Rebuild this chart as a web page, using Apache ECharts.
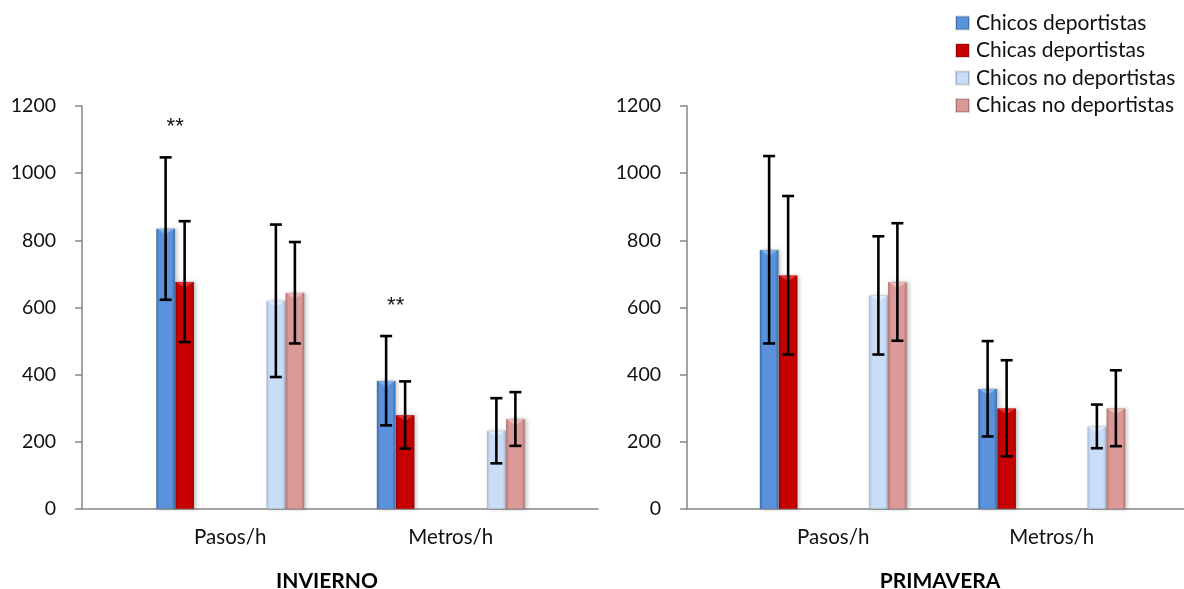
<!DOCTYPE html>
<html>
<head>
<meta charset="utf-8">
<script src="https://cdn.jsdelivr.net/npm/echarts@6/dist/echarts.min.js"></script>
<style>
html,body{margin:0;padding:0;background:#fff;}
#chart{width:1184px;height:589px;}
</style>
</head>
<body>
<div id="chart"></div>
<script>
// ---- data ----
const categories = ['Pasos/h', 'Metros/h'];
const seriesNames = ['Chicos deportistas', 'Chicas deportistas', 'Chicos no deportistas', 'Chicas no deportistas'];
const yTicks = [0, 200, 400, 600, 800, 1000, 1200];
const panelTitles = ['INVIERNO', 'PRIMAVERA'];

// INVIERNO (means, [Pasos/h, Metros/h])
const invChicosDep = [835, 382];
const invChicasDep = [677, 280];
const invChicosNoDep = [620, 233];
const invChicasNoDep = [644, 268];
// INVIERNO standard deviations
const invChicosDepSD = [212, 133];
const invChicasDepSD = [180, 100];
const invChicosNoDepSD = [227, 97];
const invChicasNoDepSD = [151, 80];
const invSignificance = ['**', '**'];

// PRIMAVERA
const priChicosDep = [772, 358];
const priChicasDep = [696, 300];
const priChicosNoDep = [636, 246];
const priChicasNoDep = [676, 300];
const priChicosDepSD = [279, 142];
const priChicasDepSD = [236, 143];
const priChicosNoDepSD = [176, 65];
const priChicasNoDepSD = [175, 113];
const priSignificance = ['', ''];

// ---- styling ----
const FONT = 'Lato';
const AXIS_COLOR = '#868686';
const BAR_W = 19;
function grad(edge, mid) {
  return new echarts.graphic.LinearGradient(0, 0, 1, 0, [
    {offset: 0, color: edge}, {offset: 0.18, color: mid},
    {offset: 0.82, color: mid}, {offset: 1, color: edge}
  ]);
}
const colors = [
  grad('#3C6DAE', '#5A92DC'),
  grad('#9C0000', '#C70000'),
  grad('#A7BEDC', '#CADDF7'),
  grad('#B57473', '#DB9997')
];
const topHighlights = ['#8CC0F5', '#F04040', '#E6F0FC', '#F2C4C2'];

const chartDom = document.getElementById('chart');
const chart = echarts.init(chartDom, null, {renderer: 'canvas'});

const panels = [
  {vals: [invChicosDep, invChicasDep, invChicosNoDep, invChicasNoDep],
   sds: [invChicosDepSD, invChicasDepSD, invChicosNoDepSD, invChicasNoDepSD],
   sig: invSignificance,
   axisGrid: {left: 82, width: 516, top: 106, bottom: 80},
   barGrid: {left: 120, width: 441, top: 106, bottom: 80},
   titleCenter: 322},
  {vals: [priChicosDep, priChicasDep, priChicosNoDep, priChicasNoDep],
   sds: [priChicosDepSD, priChicasDepSD, priChicosNoDepSD, priChicasNoDepSD],
   sig: priSignificance,
   axisGrid: {left: 687, right: 0, top: 106, bottom: 80},
   barGrid: {left: 724, width: 437, top: 106, bottom: 80},
   titleCenter: 935}
];

const grid = [], xAxis = [], yAxis = [], series = [], title = [];
// slot layout: 4 slots per panel: metric*2 + (deportistas?0:1)
const slotNames = ['p_d', 'p_n', 'm_d', 'm_n'];

panels.forEach((p, pi) => {
  const gA = grid.length; grid.push(p.axisGrid);
  const gB = grid.length; grid.push(p.barGrid);
  xAxis.push({type: 'category', gridIndex: gA, data: [''], boundaryGap: true, position: 'bottom',
    axisLine: {show: true, lineStyle: {color: AXIS_COLOR, width: 1.5}},
    axisTick: {show: false}, axisLabel: {show: false}, splitLine: {show: false}});
  const xSlots = xAxis.length;
  xAxis.push({type: 'category', gridIndex: gB, data: slotNames, position: 'bottom',
    axisLine: {show: false}, axisTick: {show: false}, axisLabel: {show: false}, splitLine: {show: false}});
  xAxis.push({type: 'category', gridIndex: gB, data: categories, position: 'bottom', offset: 0,
    axisLine: {show: false}, axisTick: {show: false}, splitLine: {show: false},
    axisLabel: {show: true, margin: 18, color: '#111', fontFamily: FONT, fontSize: 20.5}});
  yAxis.push({type: 'value', gridIndex: gA, min: yTicks[0], max: yTicks[yTicks.length - 1], interval: 200,
    axisLine: {show: true, lineStyle: {color: AXIS_COLOR, width: 1.5}},
    axisTick: {show: true, length: 7, lineStyle: {color: AXIS_COLOR, width: 1.5}},
    axisLabel: {margin: 26, color: '#111', fontFamily: FONT, fontSize: 19.5,
      formatter: function (v) { return String(v); }},
    splitLine: {show: false}});
  const yBar = yAxis.length;
  yAxis.push({type: 'value', gridIndex: gB, min: yTicks[0], max: yTicks[yTicks.length - 1], interval: 200,
    show: false, splitLine: {show: false}});

  // bars
  seriesNames.forEach((name, si) => {
    const dep = si < 2;
    const data = [];
    for (let m = 0; m < 2; m++) {
      if (dep) { data.push(p.vals[si][m]); data.push('-'); }
      else { data.push('-'); data.push(p.vals[si][m]); }
    }
    series.push({
      name: name, type: 'bar', xAxisIndex: xSlots, yAxisIndex: yBar,
      stack: 'panel' + pi + (si % 2 === 0 ? 'boys' : 'girls'),
      barWidth: BAR_W, barGap: '0%',
      itemStyle: {color: colors[si], borderColor: 'rgba(0,0,0,0.15)', borderWidth: 0.5,
        shadowBlur: 4, shadowColor: 'rgba(0,0,0,0.25)', shadowOffsetX: 2, shadowOffsetY: 0},
      data: data, z: 2
    });
  });

  // error bars (+ bevel highlight at bar tops)
  const errData = [];
  const sigList = [];
  const hlList = [];
  seriesNames.forEach((name, si) => {
    const dep = si < 2;
    const side = si % 2 === 0 ? -1 : 1;
    for (let m = 0; m < 2; m++) {
      const slot = m * 2 + (dep ? 0 : 1);
      errData.push([slot, p.vals[si][m], p.sds[si][m], side]);
      sigList.push(si === 0 ? p.sig[m] : '');
      hlList.push(topHighlights[si]);
    }
  });
  series.push({
    type: 'custom', xAxisIndex: xSlots, yAxisIndex: yBar, z: 5, silent: true,
    encode: {x: 0, y: 1},
    data: errData,
    renderItem: function (params, api) {
      const slot = api.value(0), mean = api.value(1), sd = api.value(2), side = api.value(3);
      const cx = api.coord([slot, mean])[0] + side * BAR_W / 2;
      const ym = api.coord([slot, mean])[1];
      const yt = api.coord([slot, mean + sd])[1];
      const yb = api.coord([slot, mean - sd])[1];
      const st = {stroke: '#000', lineWidth: 2.6};
      const hw = BAR_W / 2 - 1;
      const children = [
        {type: 'polygon', shape: {points: [[cx - hw, ym + 0.5], [cx + hw, ym + 0.5], [cx, ym + 6]]},
          style: {fill: hlList[params.dataIndex], opacity: 0.8}},
        {type: 'line', shape: {x1: cx, y1: yt, x2: cx, y2: yb}, style: st},
        {type: 'line', shape: {x1: cx - 6, y1: yt, x2: cx + 6, y2: yt}, style: st},
        {type: 'line', shape: {x1: cx - 6, y1: yb, x2: cx + 6, y2: yb}, style: st}
      ];
      const s = sigList[params.dataIndex];
      if (s) {
        children.push({type: 'text', x: cx + BAR_W / 2, y: yt - 30,
          style: {text: s, fill: '#111', font: '22px "Liberation Sans"', align: 'center', verticalAlign: 'middle'}});
      }
      return {type: 'group', children: children};
    }
  });

  title.push({text: panelTitles[pi], left: p.titleCenter, top: 566,
    textAlign: 'center',
    textStyle: {fontFamily: FONT, fontSize: 21, fontWeight: 'bold', color: '#000'}});
});

chart.setOption({
  animation: false,
  backgroundColor: '#fff',
  title: title,
  legend: {
    data: seriesNames, orient: 'vertical', left: 950, top: 7,
    itemWidth: 13, itemHeight: 13, itemGap: 5.5,
    icon: 'rect',
    textStyle: {fontFamily: FONT, fontSize: 21, color: '#111', lineHeight: 22, padding: [0, 0, 0, 2]}
  },
  grid: grid, xAxis: xAxis, yAxis: yAxis, series: series
});
</script>
</body>
</html>
